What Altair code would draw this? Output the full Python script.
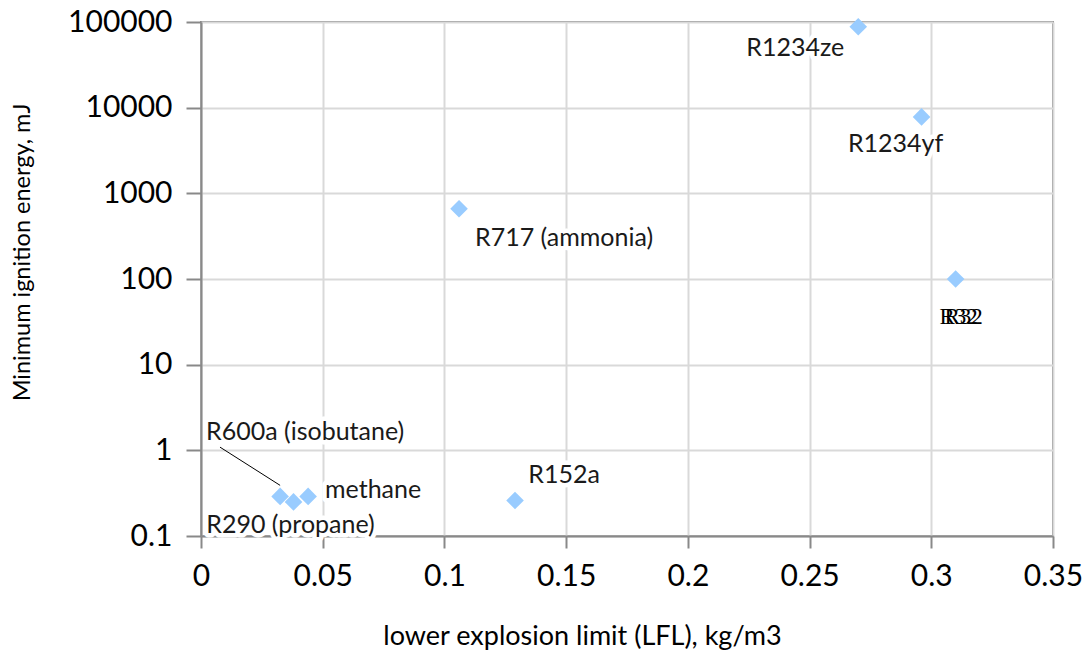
import altair as alt
import pandas as pd

# ---- data ----
names = ["R1234ze", "R1234yf", "R717 (ammonia)", "R32", "R152a",
         "methane", "R290 (propane)", "R600a (isobutane)"]
lfl = [0.27, 0.296, 0.106, 0.31, 0.129, 0.044, 0.038, 0.0325]
mie = [88000, 7800, 660, 100, 0.26, 0.29, 0.25, 0.29]

x_ticks = [0, 0.05, 0.1, 0.15, 0.2, 0.25, 0.3, 0.35]
y_ticks = [0.1, 1, 10, 100, 1000, 10000, 100000]

# label placement: pixel offsets of each data label from its point
label_dx = [-63, -26, 105, 5, 49, 65, -3, 25]
label_dy = [21, 27, 29, 38, -25, -6, 23, -64]

# leader line for R600a (label end -> point end), in data units
leader_x = [0.0078]
leader_y = [1.09]
leader_x2 = [0.0325]
leader_y2 = [0.39]

df = pd.DataFrame({"name": names, "lfl": lfl, "mie": mie})
lead = pd.DataFrame({"x": leader_x, "y": leader_y, "x2": leader_x2, "y2": leader_y2})

FONT = "Lato"
GRID = "#d9d9d9"
AXC = "#898989"
LBL = 25

xscale = alt.Scale(domain=[0, 0.35], nice=False, zero=False)
yscale = alt.Scale(type="log", domain=[0.1, 100000], nice=False)

xaxis = alt.Axis(values=x_ticks, format="~g", grid=True, gridColor=GRID, gridWidth=2,
                 domainColor=AXC, domainWidth=2, tickColor=AXC, tickWidth=2, tickSize=12,
                 labelFont=FONT, labelFontSize=30, labelColor="#000000", labelPadding=13,
                 labelFlush=False, labelOverlap=False,
                 title="lower explosion limit (LFL), kg/m3", titleFont=FONT, titleFontSize=27,
                 titleFontWeight="normal", titleColor="#000000",
                 titleX=381, titleY=100, titleAnchor="middle", titleBaseline="middle", titleAlign="center")
yaxis = alt.Axis(values=y_ticks, format="~g", grid=True, gridColor=GRID, gridWidth=2,
                 domainColor=AXC, domainWidth=2, tickColor=AXC, tickWidth=2, tickSize=15,
                 labelFont=FONT, labelFontSize=30, labelColor="#000000", labelPadding=14,
                 labelFlush=False, labelOverlap=False,
                 title="Minimum ignition energy, mJ", titleFont=FONT, titleFontSize=23.5,
                 titleFontWeight="normal", titleColor="#000000", titleAngle=270,
                 titleX=-179, titleY=230, titleBaseline="middle", titleAlign="center")

base = alt.Chart(df)

points = base.mark_point(shape="diamond", filled=True, size=310, color="#99ccff", opacity=1).encode(
    x=alt.X("lfl:Q", scale=xscale, axis=xaxis),
    y=alt.Y("mie:Q", scale=yscale, axis=yaxis),
)

leader = alt.Chart(lead).mark_rule(color="#000000", strokeWidth=1).encode(
    x=alt.X("x:Q", scale=xscale), y=alt.Y("y:Q", scale=yscale),
    x2="x2:Q", y2="y2:Q",
)

layers = [leader]
for n, dx, dy in zip(names, label_dx, label_dy):
    if n == "R32":
        for off in (0, 5):
            layers.append(base.transform_filter(alt.datum.name == n).mark_text(
                font="Liberation Serif", fontSize=23, color="#000000", dx=dx - 2 + off, dy=dy,
                align="center", baseline="middle").encode(
                x=alt.X("lfl:Q", scale=xscale), y=alt.Y("mie:Q", scale=yscale), text="name:N"))
        continue
    layers.append(base.transform_filter(alt.datum.name == n).mark_text(
        font=FONT, fontSize=LBL, color="#ffffff", stroke="#ffffff", strokeWidth=9,
        strokeJoin="round", dx=dx, dy=dy, align="center", baseline="middle").encode(
        x=alt.X("lfl:Q", scale=xscale), y=alt.Y("mie:Q", scale=yscale), text="name:N"))
    layers.append(base.transform_filter(alt.datum.name == n).mark_text(
        font=FONT, fontSize=LBL, color="#1a1a1a", dx=dx, dy=dy, align="center",
        baseline="middle").encode(
        x=alt.X("lfl:Q", scale=xscale), y=alt.Y("mie:Q", scale=yscale), text="name:N"))

# points drawn last so they stay on top
layers = layers + [points]

chart = alt.layer(*layers).properties(
    width=852, height=514,
    autosize=alt.AutoSizeParams(type="none"),
    padding={"left": 201, "top": 22, "right": 36, "bottom": 118},
    background="#ffffff",
).configure_view(stroke=AXC, strokeWidth=2)

chart.save("out.html", embed_options={"renderer": "svg", "actions": False})
